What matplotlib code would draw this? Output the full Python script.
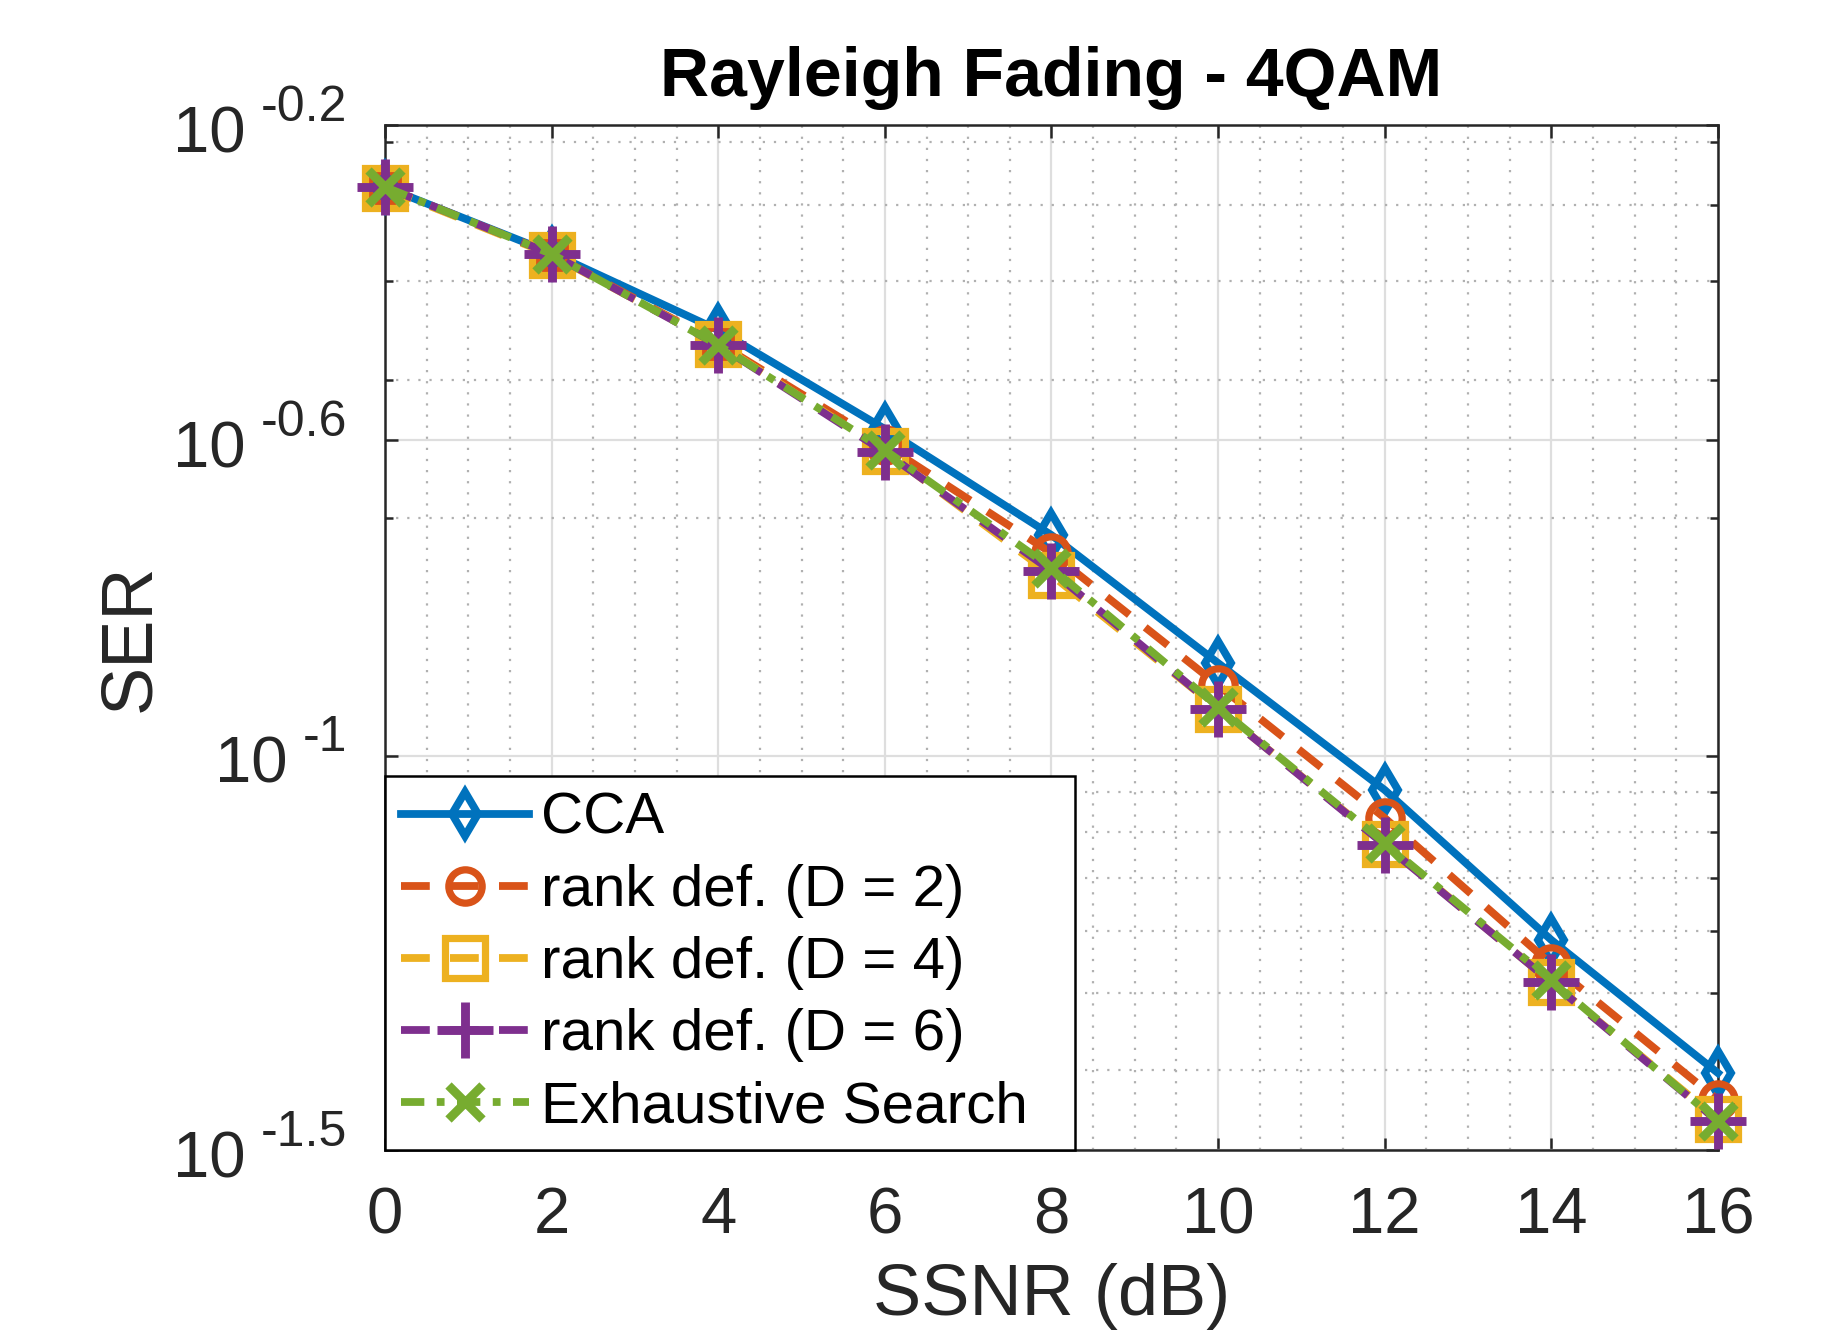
import numpy as np
import matplotlib
matplotlib.use("Agg")
import matplotlib.pyplot as plt
from matplotlib.ticker import FixedLocator, NullFormatter
from matplotlib.transforms import offset_copy

plt.rcParams["font.family"] = ["Liberation Sans", "DejaVu Sans"]

# data
ssnr = [0, 2, 4, 6, 8, 10, 12, 14, 16]
ser_cca = [0.5265, 0.4342, 0.3467, 0.2597, 0.1905, 0.1311, 0.0905, 0.0584, 0.0396]
ser_d2 = [0.5265, 0.4329, 0.3338, 0.2478, 0.1808, 0.1229, 0.0834, 0.0544, 0.0366]
ser_d4 = [0.5249, 0.4317, 0.3329, 0.2435, 0.1696, 0.1147, 0.0773, 0.0516, 0.0346]
ser_d6 = [0.5265, 0.4329, 0.3319, 0.2428, 0.1716, 0.1147, 0.0771, 0.0516, 0.0344]
ser_exh = [0.5265, 0.4329, 0.3319, 0.2442, 0.1731, 0.1153, 0.0775, 0.0519, 0.0344]

ytick_exp = ["-1.5", "-1", "-0.6", "-0.2"]
yminor = [0.04, 0.05, 0.06, 0.07, 0.08, 0.09, 0.2, 0.3, 0.4, 0.5, 0.6]

TXT = "#262626"
lw = 2.8

fig = plt.figure(figsize=(9.18, 6.65), dpi=200)
ax = fig.add_axes([0.2097, 0.1353, 0.9357 - 0.2097, 0.906 - 0.1353])

series = [
    (ser_cca, "CCA", "#0072BD", "-", "d", 11, lw),
    (ser_d2, "rank def. (D = 2)", "#D95319", (0, (3.7, 2.6)), "o", 12, 2.6),
    (ser_d4, "rank def. (D = 4)", "#EDB120", (0, (3.7, 2.6)), "s", 14.5, 2.6),
    (ser_d6, "rank def. (D = 6)", "#7E2F8E", (0, (3.7, 2.6)), "+", 20, 3.2),
    (ser_exh, "Exhaustive Search", "#77AC30", (0, (3.0, 1.6, 1, 1.6)), "x", 12, 3.2),
]
for vals, label, color, ls, mk, ms, mew in series:
    ax.plot(ssnr, vals, color=color, linestyle=ls, linewidth=lw, marker=mk,
            markersize=ms, markeredgewidth=mew, markerfacecolor="none",
            label=label, clip_on=False, zorder=3)

ax.set_yscale("log")
ax.set_xlim(0, 16)
ax.set_ylim(10 ** -1.5, 10 ** -0.2)
ax.set_xticks(ssnr)
ax.set_xticks(np.arange(0, 16.01, 0.5), minor=True)
ax.set_yticks([10 ** float(e) for e in ytick_exp])
ax.set_yticklabels([])
ax.yaxis.set_minor_locator(FixedLocator(yminor))
ax.yaxis.set_minor_formatter(NullFormatter())

ax.tick_params(which="both", direction="in", top=True, right=True,
               colors=TXT, labelsize=23.5, width=0.9)
ax.tick_params(axis="x", which="major", length=4.5, pad=13)
ax.tick_params(axis="x", which="minor", length=0)
ax.tick_params(axis="y", which="major", length=4.5)
ax.tick_params(axis="y", which="minor", length=3)

ax.grid(which="major", color="#dedede", linewidth=0.8, linestyle="-")
ax.grid(which="minor", color="#b0b0b0", linewidth=0.8, linestyle=(0, (1, 4)))
ax.set_axisbelow(True)
for sp in ax.spines.values():
    sp.set_color(TXT)
    sp.set_linewidth(0.9)

ax.set_title("Rayleigh Fading - 4QAM", fontsize=24.5, fontweight="bold", pad=10.4)
ax.set_xlabel("SSNR (dB)", fontsize=26, color=TXT, labelpad=6)
ax.set_ylabel("SER", fontsize=26, color=TXT)
ax.yaxis.set_label_coords(-0.166, 0.5)

leg = ax.legend(loc="lower left", bbox_to_anchor=(0, 0, 0.5176, 0.36), mode="expand",
                borderaxespad=0, fontsize=21, handlelength=2.2, handletextpad=0.2,
                labelspacing=0.31, borderpad=0.27, numpoints=1, fancybox=False,
                framealpha=1, edgecolor="black")
leg.get_frame().set_linewidth(0.9)

# y tick labels drawn MATLAB-style: "10" with a raised exponent
ytr = ax.get_yaxis_transform()
exps = []
for e in ytick_exp:
    t = ax.text(0, 10 ** float(e), e, fontsize=18, color=TXT, ha="right", va="center",
                transform=offset_copy(ytr, fig=fig, x=-13.7, y=6.3, units="points"))
    exps.append(t)
fig.canvas.draw()
r = fig.canvas.get_renderer()
for e, t in zip(ytick_exp, exps):
    w = t.get_window_extent(r).width * 72 / fig.dpi
    ax.text(0, 10 ** float(e), "10", fontsize=23.5, color=TXT, ha="right", va="center",
            transform=offset_copy(ytr, fig=fig, x=-13.7 - w - 5.5, y=-3.6, units="points"))

fig.savefig("out.png", dpi=200)
